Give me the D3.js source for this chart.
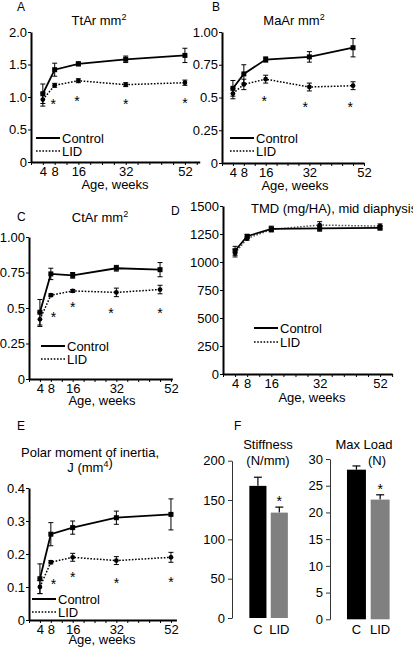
<!DOCTYPE html>
<html><head><meta charset="utf-8">
<script src="https://cdn.jsdelivr.net/npm/d3@7"></script>
<style>
body{margin:0;background:#fff;}
svg text{font-family:"Liberation Sans",Arial,sans-serif;fill:#000;}
</style></head>
<body><svg id="c" width="413" height="648"></svg>
<script>
// ---- DATA ----
const xTickLabels = [4, 8, 16, 32, 52];
const groups = ["Control", "LID"];

// Panel A: TtAr
const aWeeks = [4, 8, 16, 32, 52];
const aControl = [1.05, 1.42, 1.51, 1.58, 1.64];
const aControlErr = [0.15, 0.10, 0.03, 0.05, 0.11];
const aLID = [0.96, 1.18, 1.25, 1.19, 1.22];
const aLIDErr = [0.10, 0.03, 0.03, 0.03, 0.04];
const aStarWeeks = [7.5, 15.5, 32, 52];
const aStarVals = [0.92, 0.97, 0.93, 0.94];
const aYTicks = [0, 0.5, 1.0, 1.5, 2.0];
const aYLabels = ["0", "0.5", "1.0", "1.5", "2.0"];

// Panel B: MaAr
const bWeeks = [4, 8, 16, 32, 48];
const bControl = [0.57, 0.68, 0.79, 0.81, 0.88];
const bControlErr = [0.06, 0.07, 0.02, 0.04, 0.07];
const bLID = [0.53, 0.60, 0.64, 0.58, 0.59];
const bLIDErr = [0.04, 0.04, 0.03, 0.03, 0.03];
const bStarWeeks = [15.5, 30.5, 47];
const bStarVals = [0.49, 0.44, 0.44];
const bYTicks = [0, 0.25, 0.5, 0.75, 1.0];
const bYLabels = ["0", "0.25", "0.5", "0.75", "1.00"];

// Panel C: CtAr
const cWeeks = [4, 8, 16, 32, 48];
const cControl = [0.47, 0.74, 0.73, 0.78, 0.77];
const cControlErr = [0.09, 0.04, 0.02, 0.02, 0.05];
const cLID = [0.42, 0.59, 0.62, 0.61, 0.63];
const cLIDErr = [0.05, 0.01, 0.01, 0.03, 0.03];
const cStarWeeks = [9, 16, 30, 48];
const cStarVals = [0.45, 0.52, 0.48, 0.48];
const cYTicks = [0, 0.25, 0.5, 0.75, 1.0];
const cYLabels = ["0", "0.25", "0.5", "0.75", "1.00"];

// Panel D: TMD
const dWeeks = [4, 8, 16, 32, 52];
const dControl = [1100, 1230, 1295, 1300, 1305];
const dControlErr = [40, 15, 25, 25, 20];
const dLID = [1080, 1210, 1290, 1330, 1320];
const dLIDErr = [35, 15, 20, 30, 20];
const dYTicks = [0, 250, 500, 750, 1000, 1250, 1500];
const dYLabels = ["0", "250", "500", "750", "1000", "1250", "1500"];

// Panel E: Polar moment of inertia
const eWeeks = [4, 8, 16, 32, 52];
const eControl = [0.125, 0.26, 0.28, 0.31, 0.32];
const eControlErr = [0.045, 0.035, 0.02, 0.02, 0.047];
const eLID = [0.10, 0.175, 0.19, 0.18, 0.19];
const eLIDErr = [0.02, 0.005, 0.012, 0.012, 0.015];
const eStarWeeks = [9, 16, 32, 52];
const eStarVals = [0.115, 0.135, 0.118, 0.12];
const eYTicks = [0, 0.1, 0.2, 0.3, 0.4];
const eYLabels = ["0", "0.1", "0.2", "0.3", "0.4"];

// Panel F: mechanics
const barCats = ["C", "LID"];
const stiffness = [168, 134];
const stiffnessErr = [11, 7];
const stiffTicks = [0, 50, 100, 150, 200];
const maxLoad = [28.0, 22.4];
const maxLoadErr = [0.7, 0.9];
const loadTicks = [0, 5, 10, 15, 20, 25, 30];

// ---- DRAW ----
const svg = d3.select("#c");
const FS = 13;

function linePanel(o) {
  const g = svg.append("g");
  const x = d3.scaleLinear().domain([0, o.xMax]).range([o.x0, o.x0 + o.xMax * o.pxw]);
  const y = d3.scaleLinear().domain(o.yDom).range([o.yb, o.yt]);
  // y axis
  const ya = d3.axisLeft(y).tickValues(o.yTicks).tickFormat((d, i) => o.yLabels[i]).tickSize(3).tickPadding(1).tickSizeOuter(0);
  const yg = g.append("g").attr("transform", `translate(${o.x0},0)`).call(ya);
  yg.select(".domain").attr("stroke-width", 2);
  yg.selectAll("text").attr("font-size", FS).attr("font-family", "Liberation Sans");
  // x axis
  const xt = d3.range(0, o.xMax + 0.01, 4);
  const xa = d3.axisBottom(x).tickValues(xt).tickFormat(d => xTickLabels.includes(d) ? d : "").tickSize(3).tickPadding(2).tickSizeOuter(0);
  const xg = g.append("g").attr("transform", `translate(0,${o.yb})`).call(xa);
  xg.select(".domain").attr("stroke-width", 2);
  xg.selectAll("text").attr("font-size", FS).attr("font-family", "Liberation Sans");
  // series
  const series = [
    {v: o.ctrl, e: o.ctrlErr, dash: null, w: 1.8, col: "#000", sym: "sq"},
    {v: o.lid, e: o.lidErr, dash: "1.6,1.6", w: 1.5, col: o.lidCol || "#000", sym: "ci"}
  ];
  series.slice().reverse().forEach(s => {
    const line = d3.line().x((d, i) => x(o.weeks[i])).y(d => y(d));
    g.append("path").datum(s.v).attr("d", line).attr("fill", "none")
      .attr("stroke", s.col).attr("stroke-width", s.w).attr("stroke-dasharray", s.dash);
    s.v.forEach((v, i) => {
      const cx = x(o.weeks[i]);
      g.append("line").attr("x1", cx).attr("x2", cx).attr("y1", y(v - s.e[i])).attr("y2", y(v + s.e[i])).attr("stroke", "#000").attr("stroke-width", 1);
      [v - s.e[i], v + s.e[i]].forEach(t => g.append("line").attr("x1", cx - 2.5).attr("x2", cx + 2.5).attr("y1", y(t)).attr("y2", y(t)).attr("stroke", "#000").attr("stroke-width", 1));
      if (s.sym === "sq") g.append("rect").attr("x", cx - 2.5).attr("y", y(v) - 2.5).attr("width", 5).attr("height", 5).attr("fill", "#000");
      else g.append("circle").attr("cx", cx).attr("cy", y(v)).attr("r", 2.4).attr("fill", "#000");
    });
  });
  // stars
  (o.starW || []).forEach((w, i) => {
    g.append("text").attr("x", x(w)).attr("y", y(o.starV[i]) + 7).attr("text-anchor", "middle").attr("font-size", 14).text("*");
  });
  // legend
  const L = o.leg;
  g.append("line").attr("x1", L[0]).attr("x2", L[0] + 24).attr("y1", L[1]).attr("y2", L[1]).attr("stroke", "#000").attr("stroke-width", 2);
  g.append("line").attr("x1", L[0]).attr("x2", L[0] + 24).attr("y1", L[1] + L[2]).attr("y2", L[1] + L[2]).attr("stroke", "#000").attr("stroke-width", 1.5).attr("stroke-dasharray", "1.6,1.6");
  g.append("text").attr("x", L[0] + 26).attr("y", L[1] + 5).attr("font-size", FS).text(groups[0]);
  g.append("text").attr("x", L[0] + 26).attr("y", L[1] + L[2] + 5).attr("font-size", FS).text(groups[1]);
  // x title
  g.append("text").attr("x", o.xt[0]).attr("y", o.yb + o.xt[1]).attr("text-anchor", "middle").attr("font-size", FS).text("Age, weeks");
}

function title(x, y, parts, anchor) {
  const t = svg.append("text").attr("x", x).attr("y", y).attr("font-size", FS).attr("text-anchor", anchor || "middle");
  parts.forEach(p => {
    if (p.sup) t.append("tspan").attr("font-size", 9).attr("dy", -5).text(p.t);
    else t.append("tspan").text(p.t);
  });
}
function letter(x, y, s) { svg.append("text").attr("x", x).attr("y", y).attr("font-size", 12).text(s); }

// A
letter(17, 11, "A");
title(99, 25, [{t: "TtAr mm"}, {t: "2", sup: true}]);
linePanel({x0: 31, pxw: 2.96, xMax: 57, yDom: [0, 2], yb: 162, yt: 32, yTicks: aYTicks, yLabels: aYLabels,
  weeks: aWeeks, ctrl: aControl, ctrlErr: aControlErr, lid: aLID, lidErr: aLIDErr,
  starW: aStarWeeks, starV: aStarVals, leg: [36, 138, 13], xt: [115, 27]});

// B
letter(212, 11, "B");
title(294, 25, [{t: "MaAr mm"}, {t: "2", sup: true}]);
linePanel({x0: 222, pxw: 2.73, xMax: 52, yDom: [0, 1], yb: 163, yt: 32, yTicks: bYTicks, yLabels: bYLabels,
  weeks: bWeeks, ctrl: bControl, ctrlErr: bControlErr, lid: bLID, lidErr: bLIDErr,
  starW: bStarWeeks, starV: bStarVals, leg: [230, 138, 13], xt: [295, 27]});

// C
letter(17, 221, "C");
title(100, 222, [{t: "CtAr mm"}, {t: "2", sup: true}]);
linePanel({x0: 29, pxw: 2.73, xMax: 52.5, yDom: [0, 1], yb: 379, yt: 237, yTicks: cYTicks, yLabels: cYLabels,
  weeks: cWeeks, ctrl: cControl, ctrlErr: cControlErr, lid: cLID, lidErr: cLIDErr,
  starW: cStarWeeks, starV: cStarVals, leg: [41, 346, 13], xt: [102, 26]});

// D
letter(171, 215, "D");
svg.append("text").attr("x", 251).attr("y", 213).attr("font-size", FS).text("TMD (mg/HA), mid diaphysis");
linePanel({x0: 223, pxw: 3.02, xMax: 56, yDom: [0, 1500], yb: 374, yt: 206, yTicks: dYTicks, yLabels: dYLabels,
  weeks: dWeeks, ctrl: dControl, ctrlErr: dControlErr, lid: dLID, lidErr: dLIDErr, lidCol: "#555",
  leg: [254, 328, 14], xt: [312, 28]});

// E
letter(17, 430, "E");
svg.append("text").attr("x", 90).attr("y", 457).attr("text-anchor", "middle").attr("font-size", FS).text("Polar moment of inertia,");
title(90, 472, [{t: "J (mm"}, {t: "4", sup: true}, {t: ")"}]);
linePanel({x0: 29, pxw: 2.73, xMax: 54, yDom: [0, 0.4], yb: 620, yt: 488, yTicks: eYTicks, yLabels: eYLabels,
  weeks: eWeeks, ctrl: eControl, ctrlErr: eControlErr, lid: eLID, lidErr: eLIDErr,
  starW: eStarWeeks, starV: eStarVals, leg: [32, 599, 13], xt: [102, 24]});

// F
letter(234, 430, "F");
function barPanel(o) {
  const g = svg.append("g");
  const y = d3.scaleLinear().domain(o.yDom).range([o.yb, o.yt]);
  const x = d3.scaleBand().domain(barCats).range(o.xr).paddingInner(0.2).paddingOuter(0.1);
  const ya = d3.axisLeft(y).tickValues(o.ticks).tickSize(4).tickSizeOuter(0);
  const yg = g.append("g").attr("transform", `translate(${o.ax},0)`).call(ya);
  yg.selectAll("path,line").attr("stroke", "#333");
  yg.selectAll("text").attr("font-size", FS).attr("font-family", "Liberation Sans");
  o.vals.forEach((v, i) => {
    const c = barCats[i];
    const cx = x(c) + x.bandwidth() / 2;
    g.append("line").attr("x1", cx).attr("x2", cx).attr("y1", y(v)).attr("y2", y(v + o.errs[i])).attr("stroke", "#000").attr("stroke-width", 1.2);
    g.append("line").attr("x1", cx - 4).attr("x2", cx + 4).attr("y1", y(v + o.errs[i])).attr("y2", y(v + o.errs[i])).attr("stroke", "#000").attr("stroke-width", 1.2);
    g.append("rect").attr("x", x(c)).attr("y", y(v)).attr("width", x.bandwidth()).attr("height", o.yb - y(v))
      .attr("fill", i === 0 ? "#000" : "#808080");
    g.append("text").attr("x", cx).attr("y", 634).attr("text-anchor", "middle").attr("font-size", FS).text(c);
  });
  const lc = x("LID") + x.bandwidth() / 2;
  g.append("text").attr("x", lc).attr("y", y(o.vals[1] + o.errs[1]) - 1).attr("text-anchor", "middle").attr("font-size", 14).text("*");
  g.append("text").attr("x", o.t1[0]).attr("y", 449).attr("text-anchor", "middle").attr("font-size", FS).text(o.title[0]);
  g.append("text").attr("x", o.t1[1]).attr("y", 465).attr("text-anchor", "middle").attr("font-size", FS).text(o.title[1]);
}
barPanel({yDom: [0, 200], yb: 618, yt: 460.7, xr: [247.2, 290], ax: 232, ticks: stiffTicks,
  vals: stiffness, errs: stiffnessErr, title: ["Stiffness", "(N/mm)"], t1: [268, 268]});
barPanel({yDom: [0, 30], yb: 619.3, yt: 459, xr: [344.6, 392], ax: 330, ticks: loadTicks,
  vals: maxLoad, errs: maxLoadErr, title: ["Max Load", "(N)"], t1: [364, 377]});
</script></body></html>
